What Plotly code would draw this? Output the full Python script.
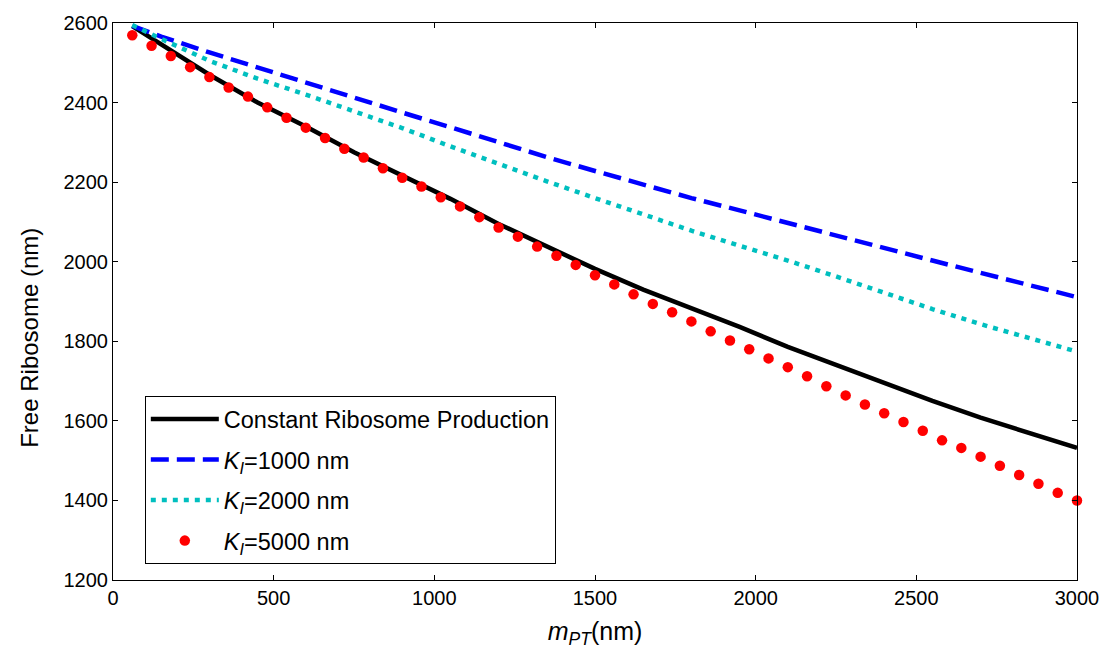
import plotly.graph_objects as go

# ---- data ----
x_line = [60, 150, 300, 450, 600, 750, 900, 1050, 1200, 1350, 1500,
          1650, 1800, 1950, 2100, 2250, 2400, 2550, 2700, 2850, 3000]
constant_prod = [2592, 2545, 2470, 2400, 2340, 2275, 2218, 2158, 2095, 2037, 1982,
                 1930, 1884, 1836, 1786, 1740, 1695, 1650, 1608, 1570, 1532]
ki_1000 = [2593, 2566, 2526, 2488, 2450, 2411, 2375, 2338, 2300, 2263, 2228,
           2193, 2160, 2129, 2097, 2066, 2035, 2003, 1972, 1942, 1911]
ki_2000 = [2595, 2560, 2505, 2460, 2420, 2378, 2336, 2290, 2245, 2202, 2160,
           2118, 2078, 2040, 2003, 1963, 1922, 1881, 1843, 1808, 1774]

x_dots = [60, 120, 180, 240, 300, 360, 420, 480, 540, 600,
          660, 720, 780, 840, 900, 960, 1020, 1080, 1140, 1200,
          1260, 1320, 1380, 1440, 1500, 1560, 1620, 1680, 1740, 1800,
          1860, 1920, 1980, 2040, 2100, 2160, 2220, 2280, 2340, 2400,
          2460, 2520, 2580, 2640, 2700, 2760, 2820, 2880, 2940, 3000]
ki_5000 = [2569, 2543, 2517, 2489, 2464, 2438, 2415, 2388, 2362, 2337,
           2311, 2284, 2262, 2235, 2211, 2189, 2162, 2139, 2112, 2086,
           2063, 2038, 2015, 1992, 1966, 1943, 1918, 1894, 1873, 1850,
           1825, 1802, 1780, 1757, 1735, 1712, 1687, 1664, 1641, 1619,
           1597, 1575, 1551, 1532, 1510, 1487, 1464, 1442, 1419, 1400]

x_ticks = [0, 500, 1000, 1500, 2000, 2500, 3000]
y_ticks = [1200, 1400, 1600, 1800, 2000, 2200, 2400, 2600]

names = ["Constant Ribosome Production",
         "<i>K</i><sub><i>I</i></sub>=1000 nm",
         "<i>K</i><sub><i>I</i></sub>=2000 nm",
         "<i>K</i><sub><i>I</i></sub>=5000 nm"]
y_title = "Free Ribosome (nm)"
x_title = "<i>m</i><sub><i>PT</i></sub>(nm)"

FONT = "Arial, 'Liberation Sans', sans-serif"

fig = go.Figure()
fig.add_trace(go.Scatter(x=x_line, y=constant_prod, mode="lines", name=names[0],
                         legendgroup="g0",
                         line=dict(color="black", width=4.5)))
fig.add_trace(go.Scatter(x=x_line, y=ki_1000, mode="lines", name=names[1],
                         legendgroup="g1",
                         line=dict(color="#0000ff", width=4.5, dash="18px,8px")))
fig.add_trace(go.Scatter(x=x_line, y=ki_2000, mode="lines", name=names[2],
                         legendgroup="g2",
                         line=dict(color="#00bfbf", width=4.5, dash="5px,6px")))
fig.add_trace(go.Scatter(x=x_dots, y=ki_5000, mode="markers", name=names[3],
                         legendgroup="g3",
                         marker=dict(color="#ff0000", size=10.5), cliponaxis=False))

axis_common = dict(
    showline=True, linecolor="black", linewidth=1, mirror="allticks",
    ticks="inside", ticklen=5, tickcolor="black", showgrid=False, zeroline=False,
    tickfont=dict(family=FONT, size=20, color="black"),
)

fig.update_layout(
    width=1111, height=658,
    paper_bgcolor="white", plot_bgcolor="white",
    margin=dict(l=113, r=32, t=18, b=78),
    font=dict(family=FONT, color="black"),
    xaxis=dict(range=[0, 3000], tickvals=x_ticks,
               title=dict(text=x_title, font=dict(family=FONT, size=25), standoff=14),
               **axis_common),
    yaxis=dict(range=[1200, 2600], tickvals=y_ticks, **axis_common),
    legend=dict(x=0.033, y=0.33, xanchor="left", yanchor="top",
                bgcolor="white", bordercolor="black", borderwidth=1,
                font=dict(family=FONT, size=23.5, color="black"),
                itemwidth=68, tracegroupgap=7),
    showlegend=True,
    annotations=[dict(text=y_title, textangle=-90, xref="paper", yref="paper",
                      x=-0.086, y=0.435, xanchor="center", yanchor="middle",
                      showarrow=False, font=dict(family=FONT, size=24, color="black"))],
)

fig.write_html("out.html", config={"displayModeBar": False})

# remove default page margin so the figure sits at the window's top-left corner
with open("out.html", "r", encoding="utf-8") as f:
    html = f.read()
html = html.replace("<body>", '<body style="margin:0;padding:0;">', 1)
with open("out.html", "w", encoding="utf-8") as f:
    f.write(html)
